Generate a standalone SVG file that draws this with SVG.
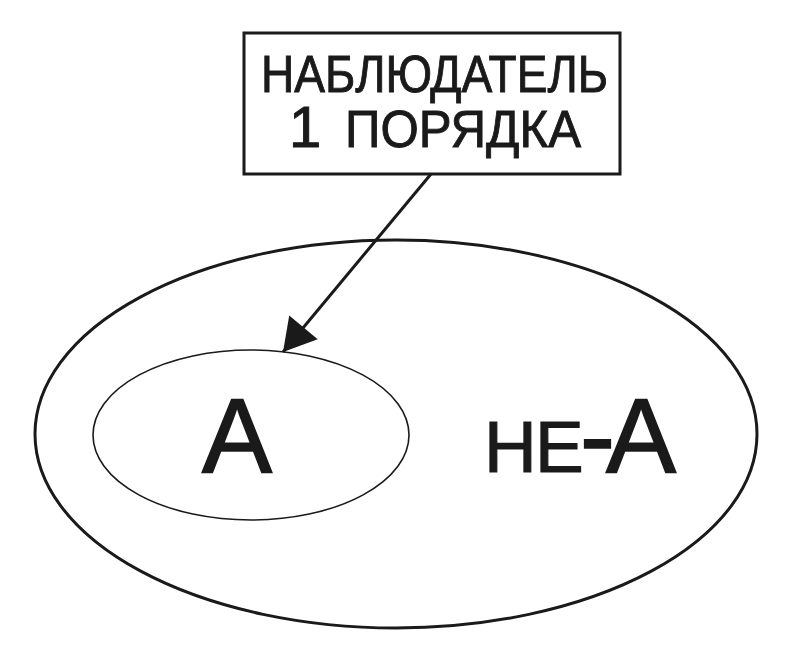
<svg xmlns="http://www.w3.org/2000/svg" width="800" height="664" viewBox="0 0 800 664">
<style>
text{font-family:"Liberation Sans","Noto Sans",Arial,sans-serif;fill:#1a1a1a;stroke:#1a1a1a}
.big{font-size:105px;stroke-width:1.6}
.mid{font-size:73px;stroke-width:1.2}
.lbl{font-size:51px;stroke-width:0.9}
</style>
<defs>
<marker id="ah" markerUnits="userSpaceOnUse" markerWidth="40" markerHeight="40" viewBox="0 -20 34 40" refX="32" refY="0" orient="auto">
<path d="M32,0 L0,-18.5 L0,18.5 Z" fill="#1a1a1a"/>
</marker>
</defs>
<rect width="800" height="664" fill="#fff"/>
<g id="outer">
<ellipse cx="396" cy="434" rx="361" ry="194" fill="none" stroke="#1a1a1a" stroke-width="3"/>
<text class="big" y="472"><tspan class="mid" x="484">Н</tspan><tspan class="mid" x="535">Е</tspan><tspan x="580">-</tspan><tspan x="606">А</tspan></text>
</g>
<g id="inner">
<ellipse cx="251" cy="435" rx="158" ry="85" fill="none" stroke="#1a1a1a" stroke-width="1.6"/>
<text class="big" x="202" y="472">А</text>
</g>
<g id="observer">
<rect x="244" y="33" width="376" height="141" fill="#fff" stroke="#1a1a1a" stroke-width="3"/>
<text class="lbl" x="261" y="92" textLength="347" lengthAdjust="spacingAndGlyphs">НАБЛЮДАТЕЛЬ</text>
<text x="289" y="147" style="font-size:58px;stroke-width:1">1</text>
<text class="lbl" x="345" y="147" textLength="236" lengthAdjust="spacingAndGlyphs">ПОРЯДКА</text>
</g>
<g id="connectors">
<line x1="431" y1="174" x2="283" y2="352" stroke="#1a1a1a" stroke-width="3" marker-end="url(#ah)"/>
</g>
</svg>
